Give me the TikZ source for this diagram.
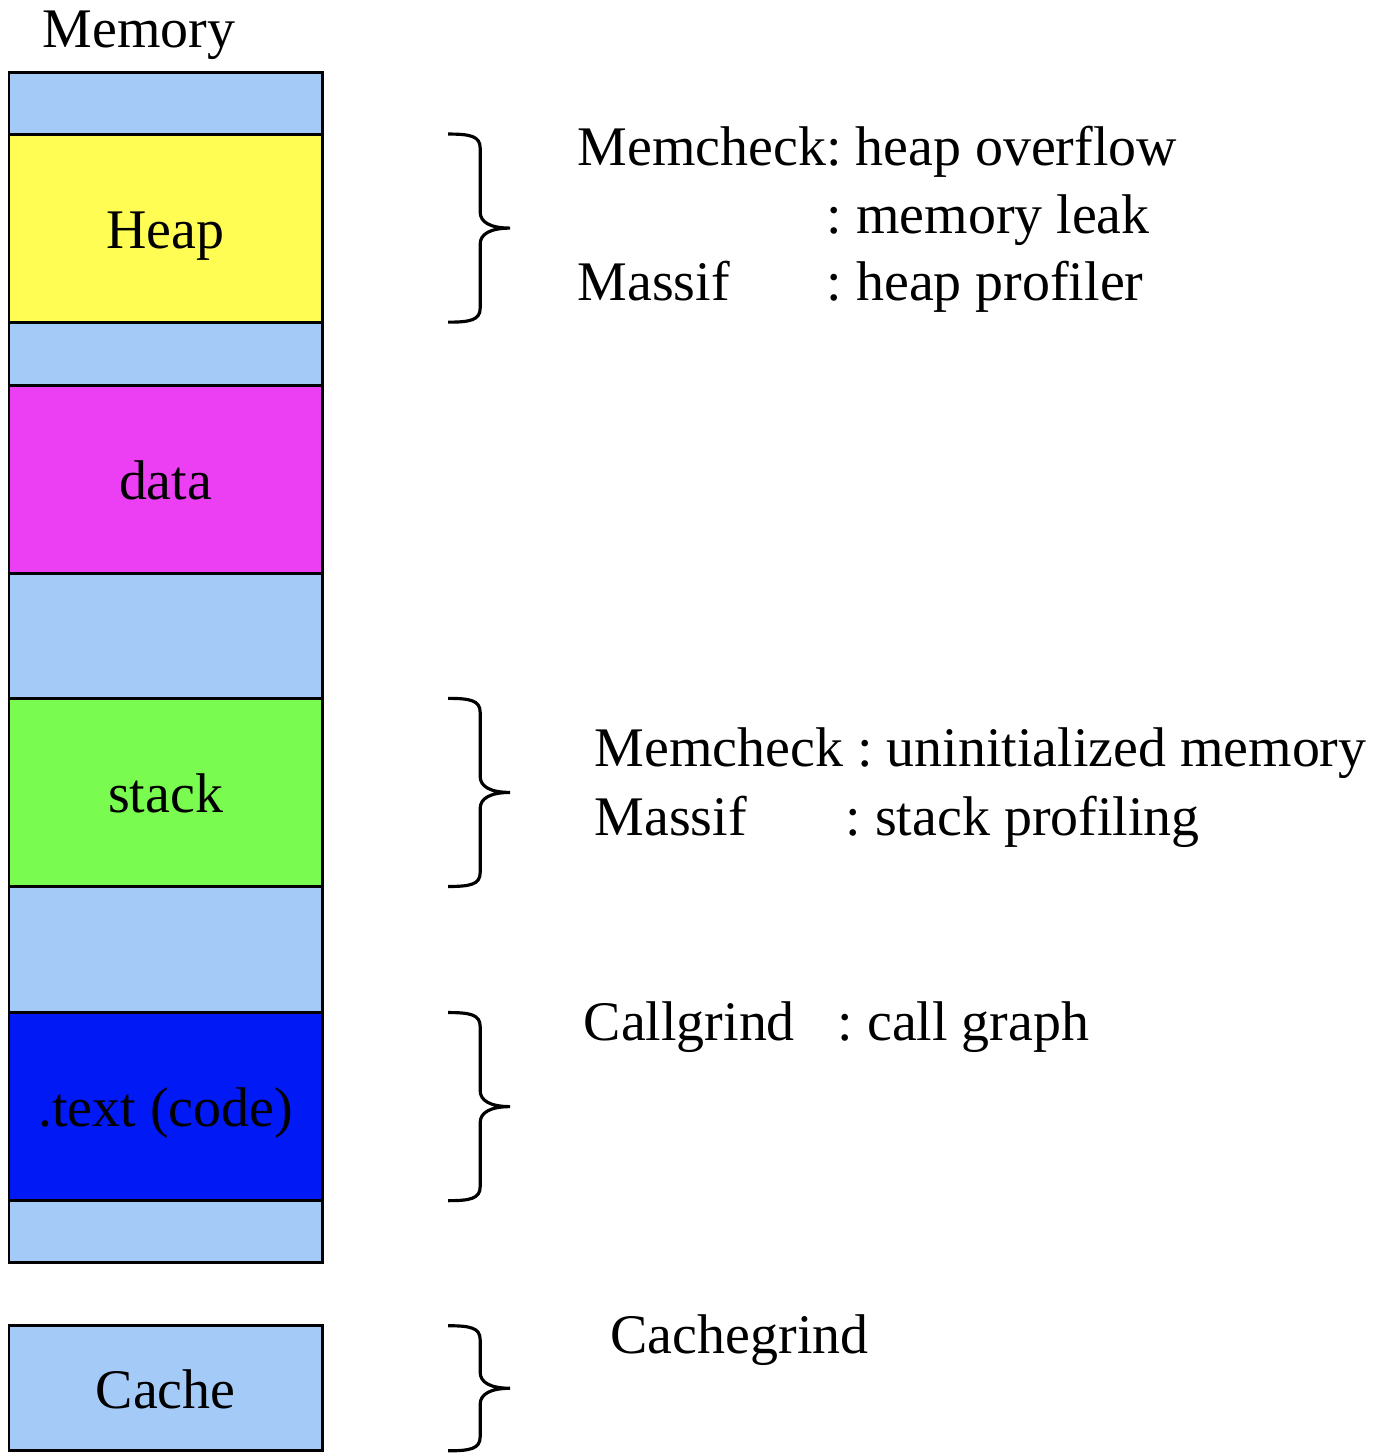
\documentclass[tikz,border=0pt]{standalone}
\usepackage{fontspec}
\setmainfont{Liberation Serif}
\usetikzlibrary{positioning, calc}
\frenchspacing
\definecolor{gapblue}{RGB}{164,203,248}
\definecolor{heapyellow}{RGB}{255,252,84}
\definecolor{datamagenta}{RGB}{236,62,243}
\definecolor{stackgreen}{RGB}{121,251,80}
\definecolor{codeblue}{RGB}{0,25,245}
\newcommand{\labelfont}{\fontsize{15.9}{19}\selectfont}
\tikzstyle{segment} = [rectangle, draw, line width=0.85pt, outer sep=0pt, inner sep=0pt, minimum width=3.13cm, minimum height=1.88cm, text height=0.4cm, text depth=0pt, font=\labelfont]
\tikzstyle{gap} = [segment, fill=gapblue, minimum height=0.62cm]
\tikzstyle{tool} = [inner sep=0pt, anchor=base west, font=\labelfont]
\tikzstyle{brace} = [line width=0.9pt]
\newcommand{\segbrace}[1]{%
  \coordinate (bt) at ($(#1.north east)+(126,0)$);
  \coordinate (bb) at ($(#1.south east)+(126,0)$);
  \coordinate (bm) at ($(bt)!0.5!(bb)$);
  \draw [brace] (bt) .. controls +(22,0) and +(0,-12) .. ($(bt)+(32,14)$)
    -- ($(bm)+(32,-16)$) .. controls +(0,10) and +(-20,0) .. ($(bm)+(62,0)$)
    .. controls +(-20,0) and +(0,-10) .. ($(bm)+(32,16)$)
    -- ($(bb)+(32,-14)$) .. controls +(0,12) and +(22,0) .. (bb);
}

\begin{document}
\begin{tikzpicture}[x=0.01cm, y=-0.01cm]
    \useasboundingbox (0,0) rectangle (1374,1456);

            % Memory column
            \node (memlabel) [anchor=base, inner sep=0pt, font=\labelfont] at (139,47) {Memory};
            \node (gap1) [gap, anchor=north west] at (9,72) {};
            \node (heap) [segment, fill=heapyellow, below=0pt of gap1] {Heap};
            \node (gap2) [gap, minimum height=0.63cm, below=0pt of heap] {};
            \node (data) [segment, fill=datamagenta, below=0pt of gap2] {data};
            \node (gap3) [gap, minimum height=1.25cm, below=0pt of data] {};
            \node (stack) [segment, fill=stackgreen, below=0pt of gap3] {stack};
            \node (gap4) [gap, minimum height=1.26cm, below=0pt of stack] {};
            \node (code) [segment, fill=codeblue, below=0pt of gap4] {.text (code)};
            \node (gap5) [gap, below=0pt of code] {};
            \node (cache) [gap, minimum height=1.25cm, below=0.63cm of gap5] {Cache};

            % Tools
            \node (heaptool1) [tool] at (577,165) {Memcheck: heap overflow};
            \node (heaptool2) [tool] at (826,233) {: memory leak};
            \node (heaptool3) [tool] at (577,300) {Massif};
            \node (heaptool4) [tool] at (826,300) {: heap profiler};

            \node (stacktool1) [tool] at (594,766) {Memcheck : uninitialized memory};
            \node (stacktool2) [tool] at (594,835) {Massif};
            \node (stacktool3) [tool] at (845,835) {: stack profiling};

            \node (codetool1) [tool] at (583,1040) {Callgrind};
            \node (codetool2) [tool] at (837,1040) {: call graph};

            \node (cachetool) [tool] at (610,1353) {Cachegrind};

            % Braces
            \segbrace{heap}
            \segbrace{stack}
            \segbrace{code}
            \segbrace{cache}

\end{tikzpicture}
\end{document}
